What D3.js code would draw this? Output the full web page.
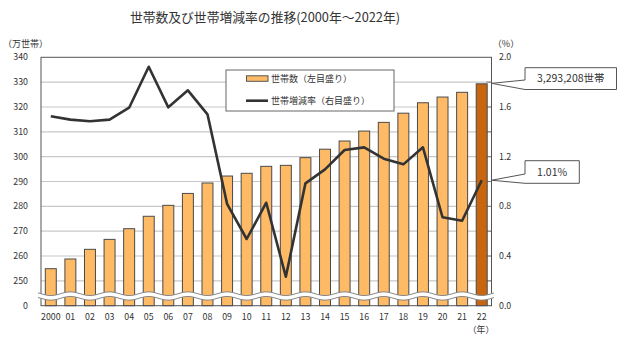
<!DOCTYPE html>
<html><head><meta charset="utf-8">
<script src="https://cdn.jsdelivr.net/npm/d3@7/dist/d3.min.js"></script>
<style>body{margin:0;background:#fff;}svg{display:block;}</style>
</head><body>
<svg id="c" width="625" height="341"></svg>
<script>
const years = ["2000","01","02","03","04","05","06","07","08","09","10","11","12","13","14","15","16","17","18","19","20","21","22"];
const households = [254.9,258.8,262.7,266.7,271.0,276.0,280.4,285.2,289.4,292.2,293.3,296.1,296.5,299.6,303.0,306.3,310.3,313.8,317.5,321.7,324.0,325.9,329.3208];
const rates = [1.525,1.498,1.485,1.498,1.594,1.924,1.597,1.734,1.541,0.82,0.537,0.829,0.233,0.985,1.098,1.254,1.275,1.184,1.138,1.275,0.712,0.684,1.01];
const leftTicks = [240,250,260,270,280,290,300,310,320,330,340];
const leftTickLabels = ["0","250","260","270","280","290","300","310","320","330","340"];
const rightTicks = [0,0.4,0.8,1.2,1.6,2.0];
const title = "世帯数及び世帯増減率の推移(2000年～2022年)";
const legendLabels = ["世帯数（左目盛り）","世帯増減率（右目盛り）"];
const calloutHouse = "3,293,208世帯";
const calloutRate = "1.01%";

(function () {
const svg = d3.select("#c");
const L = 41, R = 491.5, T = 57.3, B = 305.7;
const font = "'Noto Sans CJK JP','Noto Sans',sans-serif";
const txt = "#333";

const x = d3.scaleBand().domain(years).range([L, R]).paddingInner(0.44).paddingOuter(0.22);
const yL = d3.scaleLinear().domain([240, 340]).range([B, T]);
const yR = d3.scaleLinear().domain([0, 2]).range([B, T]);

// title
svg.append("text").attr("x", 265).attr("y", 22).attr("text-anchor", "middle")
  .attr("font-family", font).attr("font-size", 12.8).attr("fill", txt).text(title);

// gridlines
svg.append("g").selectAll("line").data(leftTicks.slice(1, -1)).join("line")
  .attr("x1", L).attr("x2", R).attr("y1", d => yL(d)).attr("y2", d => yL(d))
  .attr("stroke", "#c8c8c8").attr("stroke-width", 1.2);

// right axis small ticks
svg.append("g").selectAll("line").data(d3.range(1, 10).map(i => i * 0.2)).join("line")
  .attr("x1", R - 5).attr("x2", R).attr("y1", d => yR(d)).attr("y2", d => yR(d))
  .attr("stroke", "#777").attr("stroke-width", 1);

// bars
svg.append("g").selectAll("rect").data(households).join("rect")
  .attr("x", (d, i) => x(years[i])).attr("width", x.bandwidth())
  .attr("y", d => yL(d)).attr("height", d => B - yL(d))
  .attr("fill", (d, i) => i === years.length - 1 ? "#C8650F" : "#FFBA66")
  .attr("stroke", "#4a4a4a").attr("stroke-width", 1);

// frame
svg.append("rect").attr("x", L).attr("y", T).attr("width", R - L).attr("height", B - T)
  .attr("fill", "none").attr("stroke", "#555").attr("stroke-width", 1);

// wavy break
const step = x.step();
const wy = 296, amp = 1.8, half = 2.3;
const xs = d3.range(L - 3, R + 3.01, 1);
const wave = xx => wy + amp * Math.sin(2 * Math.PI * (xx - L) / (2 * step));
const upper = xs.map(xx => [xx, wave(xx) - half]);
const lower = xs.map(xx => [xx, wave(xx) + half]);
const ln = d3.line();
svg.append("path").attr("d", ln(upper.concat(lower.slice().reverse())) + "Z").attr("fill", "#fff");
svg.append("path").attr("d", ln(upper)).attr("fill", "none").attr("stroke", "#888").attr("stroke-width", 1);
svg.append("path").attr("d", ln(lower)).attr("fill", "none").attr("stroke", "#888").attr("stroke-width", 1);

// line series
const line = d3.line().x((d, i) => x(years[i]) + x.bandwidth() / 2).y(d => yR(d));
svg.append("path").datum(rates).attr("d", line).attr("fill", "none")
  .attr("stroke", "#333").attr("stroke-width", 2.6).attr("stroke-linejoin", "round");

// left axis labels
svg.append("g").selectAll("text").data(leftTicks).join("text")
  .attr("x", 28).attr("y", d => yL(d) + 3).attr("text-anchor", "end")
  .attr("font-family", font).attr("font-size", 8.8).attr("fill", txt)
  .text((d, i) => leftTickLabels[i]);
svg.append("text").attr("x", 3).attr("y", 47).attr("font-family", font)
  .attr("font-size", 9).attr("fill", txt).text("（万世帯）");

// right axis labels
svg.append("g").selectAll("text").data(rightTicks).join("text")
  .attr("x", 499).attr("y", d => yR(d) + 3).attr("text-anchor", "start")
  .attr("font-family", font).attr("font-size", 8.8).attr("fill", txt)
  .text(d => d3.format(".1f")(d));
svg.append("text").attr("x", 506).attr("y", 47).attr("text-anchor", "middle").attr("font-family", font)
  .attr("font-size", 9).attr("fill", txt).text("（%）");

// x labels
svg.append("g").selectAll("text").data(years).join("text")
  .attr("x", d => x(d) + x.bandwidth() / 2).attr("y", 320).attr("text-anchor", "middle")
  .attr("font-family", font).attr("font-size", 8.8).attr("fill", txt).text(d => d);
svg.append("text").attr("x", 481).attr("y", 333).attr("text-anchor", "middle")
  .attr("font-family", font).attr("font-size", 8.8).attr("fill", txt).text("（年）");

// legend
const lg = svg.append("g");
lg.append("rect").attr("x", 226).attr("y", 70).attr("width", 168).attr("height", 41)
  .attr("fill", "#fff").attr("stroke", "#666").attr("stroke-width", 1);
lg.append("rect").attr("x", 246.5).attr("y", 75.8).attr("width", 21.5).attr("height", 5.5)
  .attr("fill", "#FFBA66").attr("stroke", "#555").attr("stroke-width", 1);
lg.append("text").attr("x", 271).attr("y", 82).attr("font-family", font).attr("font-size", 9)
  .attr("fill", txt).text(legendLabels[0]);
lg.append("line").attr("x1", 246).attr("x2", 268).attr("y1", 100.7).attr("y2", 100.7)
  .attr("stroke", "#333").attr("stroke-width", 2.6);
lg.append("text").attr("x", 271).attr("y", 103.5).attr("font-family", font).attr("font-size", 9)
  .attr("fill", txt).text(legendLabels[1]);

// callouts
function callout(px, py, bx, by, bw, bh, wedgeTop, label) {
  const p = d3.path();
  p.moveTo(bx, wedgeTop);
  p.lineTo(bx, by);
  p.lineTo(bx + bw, by);
  p.lineTo(bx + bw, by + bh);
  p.lineTo(bx, by + bh);
  p.lineTo(px, py);
  p.closePath();
  svg.append("path").attr("d", p.toString()).attr("fill", "#fff").attr("stroke", "#555").attr("stroke-width", 1);
  svg.append("text").attr("x", bx + bw / 2).attr("y", by + bh / 2 + 3.8).attr("text-anchor", "middle")
    .attr("font-family", font).attr("font-size", 10.5).attr("fill", txt).text(label);
}
callout(R, yL(households[households.length - 1]) - 0.5, 525, 67.7, 91.5, 21.8, 80, calloutHouse);
callout(R, yR(rates[rates.length - 1]), 525, 160.7, 54.3, 22.6, 174, calloutRate);
})();
</script>
</body></html>
